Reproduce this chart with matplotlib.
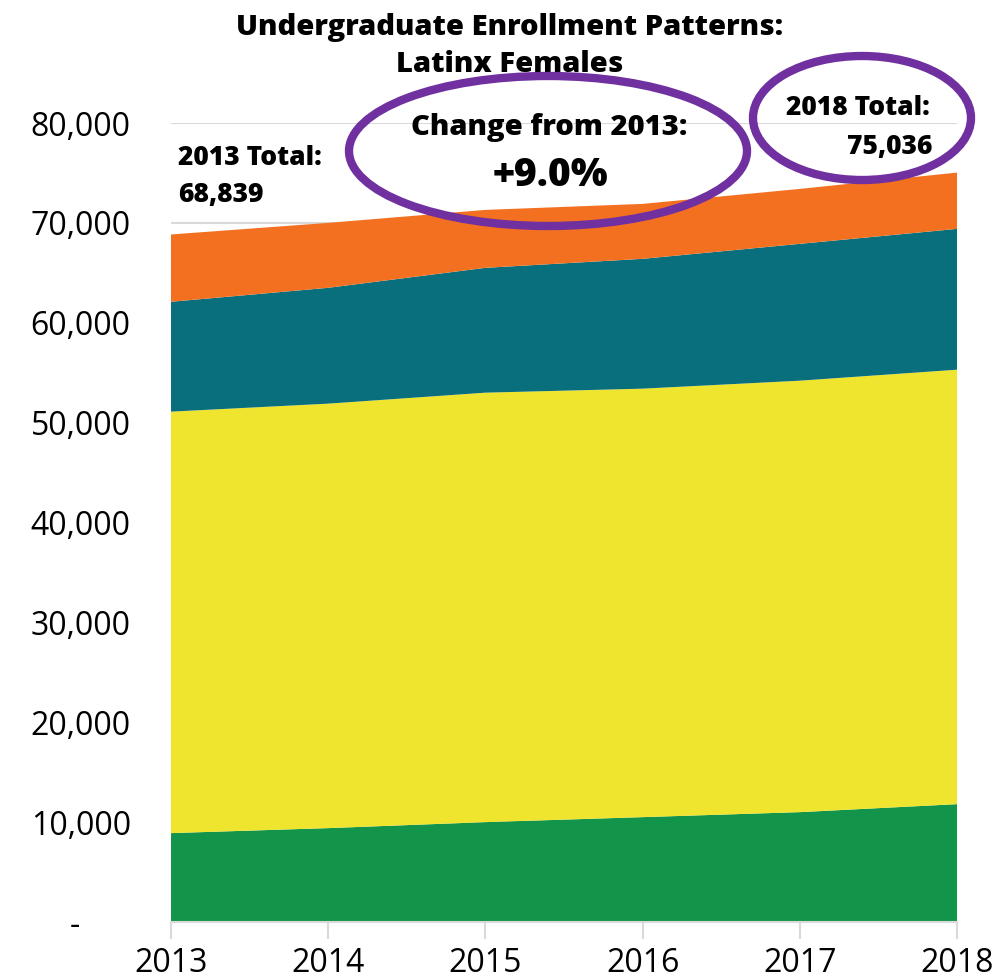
import numpy as np
import matplotlib
matplotlib.use('Agg')
import matplotlib.pyplot as plt
from matplotlib.patches import Ellipse
from matplotlib.ticker import FuncFormatter

plt.rcParams['font.family'] = ['Open Sans', 'DejaVu Sans']

years = [2013, 2014, 2015, 2016, 2017, 2018]
green = [8900, 9400, 10000, 10500, 11000, 11800]
yellow = [42200, 42500, 43000, 42900, 43200, 43500]
teal = [11000, 11600, 12500, 13000, 13700, 14100]
orange = [6739, 6500, 5800, 5500, 5500, 5636]

layer_colors = ['#12944A', '#F0E52E', '#0A6F7D', '#F37021']
purple = '#7030A0'

totals = np.sum([green, yellow, teal, orange], axis=0)
change = (totals[-1] / totals[0] - 1) * 100

W, H = 1002, 980
fig = plt.figure(figsize=(W / 100, H / 100), dpi=100)
ax = fig.add_axes([171 / W, 1 - 922 / H, (957 - 171) / W, (922 - 123) / H])

ax.stackplot(years, green, yellow, teal, orange, colors=layer_colors, linewidth=0, zorder=2)

ax.set_xlim(years[0], years[-1])
ax.set_ylim(0, 80000)
ax.set_yticks(np.arange(0, 80001, 10000))
ax.yaxis.set_major_formatter(FuncFormatter(lambda v, p: '-      ' if v == 0 else '{:,.0f}'.format(v)))
ax.set_xticks(years)
ax.grid(axis='y', color='#D9D9D9', linewidth=1.5, zorder=0)
ax.set_axisbelow(True)

for s in ['top', 'right', 'left']:
    ax.spines[s].set_visible(False)
ax.spines['bottom'].set_color('#D9D9D9')
ax.spines['bottom'].set_linewidth(1.5)
ax.tick_params(axis='y', length=0, labelsize=23, pad=29)
ax.tick_params(axis='x', length=12, width=1.5, color='#D9D9D9', labelsize=23, pad=6)

bold = dict(fontweight='heavy', va='center')
fig.text(510 / W, 1 - 28 / H, 'Undergraduate Enrollment Patterns:', ha='center', fontsize=21, **bold)
fig.text(510 / W, 1 - 65 / H, 'Latinx Females', ha='center', fontsize=21, **bold)

# start / end totals and overall change
fig.text(178 / W, 1 - 158 / H, '{} Total:'.format(years[0]), ha='left', fontsize=19, **bold)
fig.text(178 / W, 1 - 195 / H, '{:,.0f}'.format(totals[0]), ha='left', fontsize=19, **bold)
fig.text(549 / W, 1 - 128 / H, 'Change from {}:'.format(years[0]), ha='center', fontsize=21, **bold)
fig.text(550 / W, 1 - 176 / H, '{:+.1f}%'.format(change), ha='center', fontsize=28, **bold)
fig.text(858 / W, 1 - 108 / H, '{} Total:'.format(years[-1]), ha='center', fontsize=19, **bold)
fig.text(932 / W, 1 - 147 / H, '{:,.0f}'.format(totals[-1]), ha='right', fontsize=19, **bold)

for cx, cy, w, h in [(548, 151, 398, 150), (862, 118, 218, 124)]:
    fig.patches.append(Ellipse((cx / W, 1 - cy / H), w / W, h / H, transform=fig.transFigure,
                               fill=False, edgecolor=purple, linewidth=6, zorder=5))

fig.savefig('out.png', dpi=100)
